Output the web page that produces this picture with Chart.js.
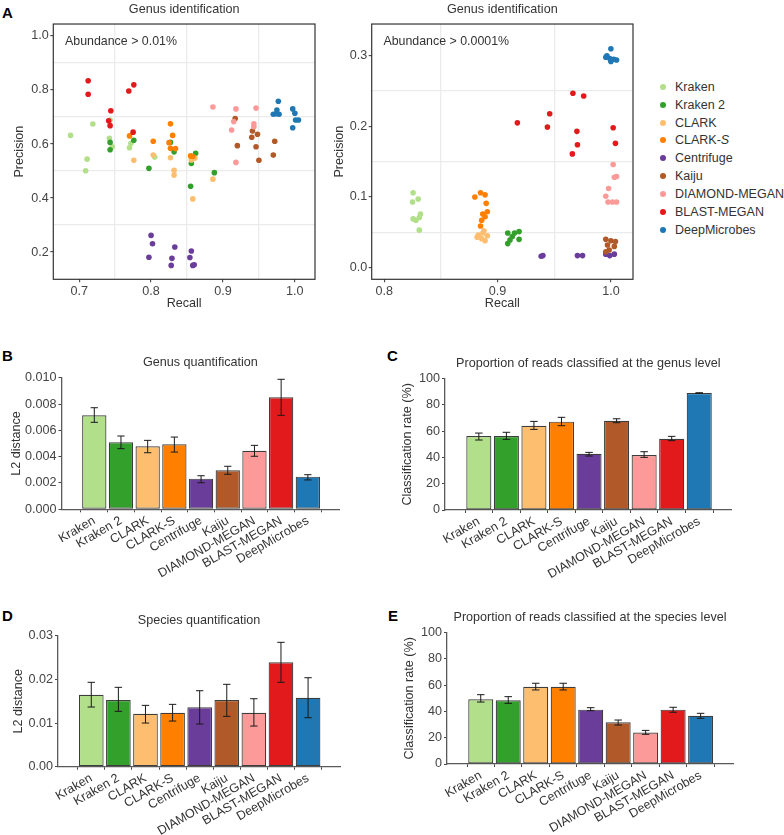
<!DOCTYPE html>
<html>
<head>
<meta charset="utf-8">
<script src="https://cdn.jsdelivr.net/npm/chart.js@4.4.1/dist/chart.umd.min.js"></script>
<style>
  body { margin: 0; background: #fff; }
  #fig { position: relative; width: 784px; height: 835px; font-family: "Liberation Sans", Arial, sans-serif; color: #333; }
  .box { position: absolute; }
  .tag { position: absolute; font-weight: bold; font-size: 15px; line-height: 15px; color: #000; }
  .leg { position: absolute; left: 660px; font-size: 12.5px; line-height: 14px; white-space: nowrap; }
  .leg span.dot { position: absolute; left: 0; top: 4px; width: 6px; height: 6px; border-radius: 50%; }
  .leg span.txt { position: absolute; left: 15px; top: 0; }
</style>
</head>
<body>
<div id="fig">
  <div class="tag" style="left:2px;top:5px">A</div>
  <div class="tag" style="left:2px;top:348px">B</div>
  <div class="tag" style="left:387px;top:348px">C</div>
  <div class="tag" style="left:2px;top:608px">D</div>
  <div class="tag" style="left:388px;top:608px">E</div>
</div>
<script>
// methods and colours (same order everywhere)
const methods = ['Kraken', 'Kraken 2', 'CLARK', 'CLARK-S', 'Centrifuge', 'Kaiju', 'DIAMOND-MEGAN', 'BLAST-MEGAN', 'DeepMicrobes'];
const colors = ['#b2df8a', '#33a02c', '#fdbf6f', '#ff7f00', '#6a3d9a', '#b15928', '#fb9a99', '#e31a1c', '#1f78b4'];

// A left: [recall, precision], abundance > 0.01%
const a1Kraken = [[0.688, 0.632], [0.719, 0.674], [0.711, 0.544], [0.709, 0.501], [0.743, 0.689], [0.742, 0.621], [0.746, 0.590], [0.770, 0.586], [0.772, 0.603], [0.805, 0.552]];
const a1Kraken2 = [[0.743, 0.606], [0.743, 0.579], [0.776, 0.614], [0.797, 0.510], [0.832, 0.571], [0.827, 0.606], [0.862, 0.566], [0.856, 0.528], [0.855, 0.444], [0.888, 0.494]];
const a1Clark = [[0.776, 0.540], [0.803, 0.559], [0.827, 0.549], [0.832, 0.503], [0.832, 0.485], [0.856, 0.541], [0.861, 0.548], [0.858, 0.397], [0.886, 0.470]];
const a1ClarkS = [[0.770, 0.630], [0.803, 0.610], [0.827, 0.675], [0.830, 0.632], [0.825, 0.605], [0.827, 0.584], [0.834, 0.583], [0.855, 0.556], [0.858, 0.554]];
const a1Centrifuge = [[0.800, 0.262], [0.802, 0.231], [0.797, 0.181], [0.833, 0.219], [0.829, 0.177], [0.828, 0.151], [0.856, 0.204], [0.854, 0.180], [0.858, 0.151], [0.860, 0.153]];
const a1Kaiju = [[0.917, 0.694], [0.920, 0.594], [0.941, 0.648], [0.940, 0.625], [0.948, 0.636], [0.946, 0.590], [0.950, 0.540], [0.972, 0.610], [0.970, 0.559]];
const a1Diamond = [[0.886, 0.737], [0.918, 0.730], [0.915, 0.683], [0.912, 0.652], [0.918, 0.532], [0.946, 0.733], [0.943, 0.675], [0.943, 0.664]];
const a1Blast = [[0.7125, 0.834], [0.7125, 0.784], [0.769, 0.796], [0.776, 0.819], [0.744, 0.723], [0.743, 0.668], [0.775, 0.644], [0.741, 0.686]];
const a1Deep = [[0.977, 0.758], [0.975, 0.726], [0.970, 0.710], [0.978, 0.710], [0.974, 0.712], [0.997, 0.730], [1.000, 0.714], [1.001, 0.689], [1.005, 0.689], [0.997, 0.660]];

// A right: [recall, precision], abundance > 0.0001%
const a2Kraken = [[0.8255, 0.106], [0.825, 0.093], [0.830, 0.097], [0.832, 0.076], [0.8255, 0.069], [0.831, 0.071], [0.828, 0.067], [0.831, 0.053]];
const a2Kraken2 = [[0.909, 0.049], [0.909, 0.034], [0.913, 0.044], [0.915, 0.049], [0.919, 0.051], [0.919, 0.040], [0.911, 0.039]];
const a2Clark = [[0.883, 0.046], [0.887, 0.049], [0.891, 0.045], [0.889, 0.038], [0.882, 0.043], [0.886, 0.041], [0.888, 0.052]];
const a2ClarkS = [[0.880, 0.100], [0.885, 0.106], [0.889, 0.103], [0.890, 0.091], [0.891, 0.079], [0.887, 0.076], [0.889, 0.072], [0.886, 0.067], [0.885, 0.059]];
const a2Centrifuge = [[0.9385, 0.016], [0.940, 0.017], [0.9705, 0.017], [0.975, 0.017], [0.9955, 0.019], [0.999, 0.017], [1.003, 0.019]];
const a2Kaiju = [[0.9955, 0.040], [1.000, 0.038], [1.004, 0.037], [0.997, 0.032], [1.003, 0.030], [0.9985, 0.025], [0.9955, 0.0225]];
const a2Diamond = [[1.002, 0.146], [1.003, 0.128], [1.005, 0.129], [0.998, 0.112], [0.9955, 0.101], [0.9975, 0.093], [1.0015, 0.093], [1.005, 0.093]];
const a2Blast = [[0.9175, 0.205], [0.946, 0.218], [0.944, 0.199], [0.9665, 0.247], [0.976, 0.243], [0.970, 0.193], [0.9705, 0.174], [0.966, 0.161], [1.002, 0.198], [1.004, 0.176]];
const a2Deep = [[1.000, 0.310], [0.9965, 0.300], [0.999, 0.296], [1.0025, 0.295], [1.005, 0.294], [0.9955, 0.298], [1.000, 0.292]];

// scatter axes: labelled ticks and grid positions
const a1RecallTicks = [0.7, 0.8, 0.9, 1.0];
const a1RecallGrid = [0.75, 0.85, 0.95];
const a1PrecisionTicks = [0.2, 0.4, 0.6, 0.8, 1.0];
const a1PrecisionGrid = [0.3, 0.5, 0.7, 0.9];
const a2RecallTicks = [0.8, 0.9, 1.0];
const a2RecallGrid = [0.85, 0.95];
const a2PrecisionTicks = [0.0, 0.1, 0.2, 0.3];
const a2PrecisionGrid = [0.05, 0.15, 0.25];

// B - E bar values with error bar ends
const genusL2 = [0.00714, 0.00509, 0.00479, 0.00494, 0.00233, 0.00296, 0.00445, 0.00851, 0.00248];
const genusL2Lo = [0.00661, 0.00461, 0.00430, 0.00435, 0.00202, 0.00266, 0.00403, 0.00714, 0.00223];
const genusL2Hi = [0.00772, 0.00557, 0.00524, 0.00549, 0.00255, 0.00327, 0.00486, 0.00988, 0.00263];
const genusRate = [56.4, 56.4, 64.2, 67.3, 42.9, 68.0, 41.9, 54.3, 89.1];
const genusRateLo = [53.3, 53.8, 61.4, 64.2, 41.1, 66.5, 40.1, 52.8, 88.9];
const genusRateHi = [58.6, 59.2, 67.5, 70.6, 43.9, 69.5, 44.4, 56.1, 89.3];
const speciesL2 = [0.01649, 0.01527, 0.01214, 0.01237, 0.01359, 0.01527, 0.01237, 0.02391, 0.01580];
const speciesL2Lo = [0.01367, 0.01268, 0.01000, 0.01046, 0.00977, 0.01153, 0.00931, 0.01933, 0.01122];
const speciesL2Hi = [0.01933, 0.01818, 0.01405, 0.01428, 0.01740, 0.01887, 0.01557, 0.02849, 0.02038];
const speciesRate = [49.3, 48.5, 58.9, 58.9, 41.4, 31.8, 23.9, 41.4, 36.8];
const speciesRateLo = [47.2, 46.2, 56.4, 56.4, 40.6, 29.7, 22.6, 39.4, 34.8];
const speciesRateHi = [52.8, 51.3, 61.5, 61.5, 42.9, 33.5, 25.6, 43.2, 38.6];

const genusL2Ticks = [0, 0.002, 0.004, 0.006, 0.008, 0.010];
const speciesL2Ticks = [0, 0.01, 0.02, 0.03];
const rateTicks = [0, 20, 40, 60, 80, 100];

const FS = 12.6;
Chart.defaults.font.family = '"Liberation Sans", Arial, sans-serif';
Chart.defaults.font.size = FS;
Chart.defaults.color = '#444';
Chart.defaults.animation = false;

const fig = document.getElementById('fig');
const inList = (v, list) => list.some(m => Math.abs(m - v) < 1e-9);

function makeCanvas(left, top, w, h) {
    const div = document.createElement('div');
    div.className = 'box';
    div.style.cssText = `left:${left}px;top:${top}px;width:${w}px;height:${h}px`;
    const c = document.createElement('canvas');
    div.appendChild(c);
    fig.appendChild(div);
    return c;
}

// box around the scatter panel + the abundance note
function framePlugin(note) {
    return {
        id: 'frame',
        afterDatasetsDraw(chart) {
            const { ctx, chartArea: a } = chart;
            ctx.save();
            ctx.strokeStyle = '#333';
            ctx.lineWidth = 1.2;
            ctx.strokeRect(a.left, a.top, a.right - a.left, a.bottom - a.top);
            ctx.fillStyle = '#333';
            ctx.font = '12.4px "Liberation Sans", Arial, sans-serif';
            ctx.textAlign = 'left';
            ctx.textBaseline = 'middle';
            ctx.fillText(note, a.left + 11.7, a.top + 17.7);
            ctx.restore();
        }
    };
}

function errorBarPlugin(lo, hi) {
    return {
        id: 'errorBars',
        afterDatasetsDraw(chart) {
            const { ctx } = chart;
            const y = chart.scales.y;
            const meta = chart.getDatasetMeta(0);
            ctx.save();
            ctx.strokeStyle = '#1a1a1a';
            ctx.lineWidth = 1;
            meta.data.forEach((bar, i) => {
                const half = bar.width * 0.15;
                const yl = y.getPixelForValue(lo[i]);
                const yh = y.getPixelForValue(hi[i]);
                ctx.beginPath();
                ctx.moveTo(bar.x, yl); ctx.lineTo(bar.x, yh);
                ctx.moveTo(bar.x - half, yl); ctx.lineTo(bar.x + half, yl);
                ctx.moveTo(bar.x - half, yh); ctx.lineTo(bar.x + half, yh);
                ctx.stroke();
            });
            ctx.restore();
        }
    };
}

function scatterAxis(min, max, labels, grid, size, title, titlePad, horizontal) {
    const all = labels.concat(grid).sort((a, b) => a - b);
    return {
        type: 'linear', min, max,
        afterBuildTicks: s => { s.ticks = all.map(v => ({ value: v })); },
        afterFit: s => { if (horizontal) s.height = size; else s.width = size; },
        ticks: { padding: 1.5, callback: v => inList(v, labels) ? v.toFixed(1) : '' },
        grid: {
            color: c => inList(c.tick.value, grid) ? '#ebebeb' : 'rgba(0,0,0,0)',
            tickColor: c => inList(c.tick.value, labels) ? '#333' : 'rgba(0,0,0,0)',
            lineWidth: 1.3, tickWidth: 1, tickLength: 3
        },
        border: { display: false },
        title: { display: true, text: title, color: '#333', font: { size: FS }, padding: titlePad }
    };
}

function scatterChart(canvas, sets, note, xr, yr, yWidth, padRight, yTitlePad) {
    new Chart(canvas, {
        type: 'scatter',
        data: {
            datasets: sets.map((pts, i) => ({
                label: methods[i],
                data: pts.map(p => ({ x: p[0], y: p[1] })),
                backgroundColor: colors[i],
                borderWidth: 0,
                pointRadius: 2.8,
                pointHoverRadius: 2.8,
                order: -i
            }))
        },
        options: {
            responsive: true, maintainAspectRatio: false,
            layout: { padding: { left: 0, right: padRight, top: 0, bottom: 0 } },
            scales: {
                x: scatterAxis(xr[0], xr[1], xr[2], xr[3], 35.7, 'Recall', { top: 0, bottom: 4 }, true),
                y: scatterAxis(yr[0], yr[1], yr[2], yr[3], yWidth, 'Precision', { top: yTitlePad, bottom: 0 }, false)
            },
            plugins: {
                legend: { display: false },
                tooltip: { enabled: false },
                title: {
                    display: true, text: 'Genus identification', fullSize: false,
                    color: '#333', font: { size: FS, weight: 'normal' },
                    padding: { top: 2.4, bottom: 6.5 }
                }
            }
        },
        plugins: [framePlugin(note)]
    });
}

function barChart(canvas, values, lo, hi, yTicks, digits, title, yTitle, d) {
    new Chart(canvas, {
        type: 'bar',
        data: {
            datasets: [{
                data: values.map((v, i) => ({ x: i, y: v })),
                backgroundColor: colors,
                borderColor: '#3d3d3d',
                borderWidth: 1.2,
                borderSkipped: false,
                barPercentage: 0.91,
                categoryPercentage: 1
            }]
        },
        options: {
            responsive: true, maintainAspectRatio: false,
            layout: { padding: { left: 0, right: d.padRight, top: 0, bottom: 0 } },
            scales: {
                x: {
                    type: 'linear', min: -0.65, max: 8.6,
                    afterBuildTicks: s => { s.ticks = methods.map((m, i) => ({ value: i })); },
                    afterFit: s => { s.height = d.xHeight; },
                    ticks: {
                        autoSkip: false, minRotation: 30, maxRotation: 30, padding: 1,
                        color: '#333', callback: (v, i) => methods[i]
                    },
                    grid: { drawOnChartArea: false, tickColor: '#444', tickLength: 3, tickWidth: 1 },
                    border: { display: true, color: '#5a5a5a', width: 1.3 }
                },
                y: {
                    min: 0, max: yTicks[yTicks.length - 1],
                    afterBuildTicks: s => { s.ticks = yTicks.map(v => ({ value: v })); },
                    afterFit: s => { s.width = d.yWidth; },
                    ticks: { padding: 2, callback: v => v.toFixed(digits) },
                    grid: { drawOnChartArea: false, tickColor: '#444', tickLength: 3, tickWidth: 1 },
                    border: { display: true, color: '#5a5a5a', width: 1.3 },
                    title: { display: true, text: yTitle, color: '#333', font: { size: FS }, padding: { top: d.yTitlePad, bottom: 0 } }
                }
            },
            plugins: {
                legend: { display: false },
                tooltip: { enabled: false },
                title: {
                    display: true, text: title, fullSize: false,
                    color: '#333', font: { size: FS, weight: 'normal' },
                    padding: { top: d.titleTop, bottom: 8 }
                }
            }
        },
        plugins: [errorBarPlugin(lo, hi)]
    });
}

// A
scatterChart(makeCanvas(0, 0, 320, 315),
    [a1Kraken, a1Kraken2, a1Clark, a1ClarkS, a1Centrifuge, a1Kaiju, a1Diamond, a1Blast, a1Deep],
    'Abundance > 0.01%',
    [0.664, 1.028, a1RecallTicks, a1RecallGrid],
    [0.0995, 1.044, a1PrecisionTicks, a1PrecisionGrid],
    53.3, 5, 11.6);
scatterChart(makeCanvas(320, 0, 320, 315),
    [a2Kraken, a2Kraken2, a2Clark, a2ClarkS, a2Centrifuge, a2Kaiju, a2Diamond, a2Blast, a2Deep],
    'Abundance > 0.0001%',
    [0.789, 1.0195, a2RecallTicks, a2RecallGrid],
    [-0.0166, 0.345, a2PrecisionTicks, a2PrecisionGrid],
    51.7, 7, 11.6);

// legend for A
methods.forEach((m, i) => {
    const row = document.createElement('div');
    row.className = 'leg';
    row.style.top = (86.7 + 17.9 * i - 7) + 'px';
    const label = m === 'CLARK-S' ? 'CLARK-<i>S</i>' : m;
    row.innerHTML = `<span class="dot" style="background:${colors[i]}"></span><span class="txt">${label}</span>`;
    fig.appendChild(row);
});

// B - E
barChart(makeCanvas(0, 351, 346, 230), genusL2, genusL2Lo, genusL2Hi, genusL2Ticks, 3,
    'Genus quantification', 'L2 distance',
    { yWidth: 61.5, xHeight: 71.7, padRight: 6.7, titleTop: 3.6, yTitlePad: 9.3 });
barChart(makeCanvas(390, 352, 348, 230), genusRate, genusRateLo, genusRateHi, rateTicks, 0,
    'Proportion of reads classified at the genus level', 'Classification rate (%)',
    { yWidth: 55, xHeight: 72, padRight: 6.3, titleTop: 3.6, yTitlePad: 9.9 });
barChart(makeCanvas(0, 608, 346, 227), speciesL2, speciesL2Lo, speciesL2Hi, speciesL2Ticks, 2,
    'Species quantification', 'L2 distance',
    { yWidth: 58, xHeight: 68.3, padRight: 6, titleTop: 4.6, yTitlePad: 11.3 });
barChart(makeCanvas(390, 605, 350, 230), speciesRate, speciesRateLo, speciesRateHi, rateTicks, 0,
    'Proportion of reads classified at the species level', 'Classification rate (%)',
    { yWidth: 57, xHeight: 71, padRight: 7, titleTop: 4.6, yTitlePad: 11.8 });
</script>
</body>
</html>
